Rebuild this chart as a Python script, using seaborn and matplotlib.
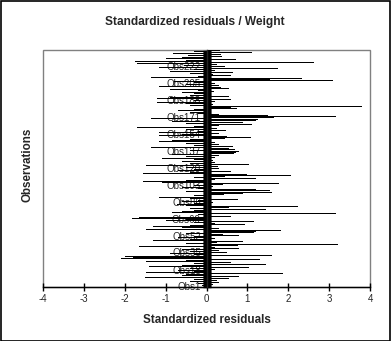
import matplotlib
matplotlib.use("Agg")
import matplotlib.pyplot as plt
from matplotlib.patches import Rectangle
import seaborn as sns
import pandas as pd

# Standardized residuals, listed from the top row of the chart down to Obs1
residuals_top_down = [
    0.32, -0.3, 1.12, -0.83, 0.35, -0.45, 0.39, -0.6, -1.0, 0.73,
    -0.5, -1.75, 2.64, -1.7, 0.25, -0.55, 0.45, -1.15, 1.76, -0.3,
    0.2, -0.9, 0.65, -0.4, 0.15, 0.6, -0.2, -1.35, 2.34, 1.56,
    3.1, -0.8, -0.3, 0.2, -0.5, 0.3, -1.15, 0.35, 0.55, -0.9,
    -0.2, 0.18, -0.6, -0.3, 0.1, -0.4, 0.55, -0.9, -1.2, 0.6,
    -0.3, 0.2, -1.2, -0.5, 0.15, -0.4, 3.8, 0.6, 0.75, -0.3,
    -0.7, 0.1, -0.4, -0.2, 0.3, 1.5, 3.18, 1.64, -1.35, 1.27,
    1.2, -0.85, 0.9, -0.5, 1.12, 0.3, -0.3, -1.7, 0.25, -0.5,
    0.47, -0.2, -1.15, 0.3, -0.6, -1.15, 0.5, 1.1, 0.45, -0.4,
    -0.85, -1.15, 0.2, -0.5, 0.3, -0.3, 0.66, -1.35, 0.55, 0.7,
    -0.4, 0.8, 0.72, 0.68, -0.85, 0.3, -0.5, 0.2, -1.1, -0.3,
    0.15, -0.6, 0.2, -0.4, 1.05, -1.47, 0.27, -0.5, 0.3, -0.3,
    -0.7, 0.6, -0.4, -1.56, 1.0, 2.07, 0.46, -0.3, 1.2, 0.2,
    -0.5, -1.56, -1.1, 1.78, 0.4, -0.3, 0.15, -0.6, -0.2, 1.2,
    1.56, -0.5, 1.6, 0.9, 0.44, -0.3, 0.1, -1.15, -0.4, 0.78,
    -0.2, -0.6, 0.15, -0.3, -0.73, -0.5, 2.25, 0.56, -0.4, 1.46,
    -0.3, -0.6, -0.85, 3.17, -0.2, 0.1, 0.6, -1.64, -1.83, -0.5,
    -1.0, 1.15, -0.3, 0.2, 0.95, -0.4, -1.3, -0.6, 0.3, -1.47,
    1.83, 1.2, 1.15, -0.5, 0.4, 0.8, -0.3, -0.7, 0.2, -0.4,
    -1.3, 0.9, 0.25, -0.5, 3.22, 0.78, -1.64, 0.2, 0.8, -0.6,
    0.3, -0.4, 0.5, -0.9, -0.3, 1.6, -2.0, -1.8, -2.1, 1.3,
    -0.5, -1.47, 0.6, -0.3, 1.46, -0.6, -1.4, 1.05, -0.4, 0.2,
    -0.7, -0.3, -1.47, 1.88, -0.5, -0.6, 0.8, -1.5, 0.55, -0.3,
    0.25, -0.4, 0.3, -0.2, 0.15, -0.1, 0.1,
]
residuals = residuals_top_down[::-1]          # Obs1 ... ObsN
observations = [f"Obs{i}" for i in range(1, len(residuals) + 1)]
labeled_obs = ["Obs1", "Obs18", "Obs35", "Obs52", "Obs69", "Obs86", "Obs103",
               "Obs120", "Obs137", "Obs154", "Obs171", "Obs188", "Obs205", "Obs222"]
x_ticks = [-4, -3, -2, -1, 0, 1, 2, 3, 4]

df = pd.DataFrame({"Observation": observations, "Residual": residuals})

sns.set_style("white")
plt.rcParams["font.family"] = ["Liberation Sans", "DejaVu Sans"]

fig = plt.figure(figsize=(3.91, 3.41), dpi=100)
fig.patch.set_facecolor("white")
ax = fig.add_axes([43 / 391, 1 - 287 / 341, 327 / 391, 237 / 341])

order = observations[::-1]  # top row first
sns.barplot(data=df, x="Residual", y="Observation", order=order, orient="h",
            color="black", width=1.0, linewidth=0, saturation=1, ax=ax)
for p in ax.patches:
    p.set_antialiased(False)

ax.set_xlim(-4, 4)
ax.set_ylim(len(order) - 0.5, -0.5)

# y axis at zero with a tick mark for every observation
ax.spines["left"].set_position(("data", 0))
ax.spines["left"].set_linewidth(1)
ax.spines["left"].set_zorder(5)
ax.set_yticks(range(len(order)), minor=True)
ax.tick_params(axis="y", which="minor", direction="inout", length=6, width=1,
               color="black", left=True)
ax.set_yticks([order.index(o) for o in labeled_obs])
ax.set_yticklabels(labeled_obs)
ax.tick_params(axis="y", which="major", direction="inout", length=6, width=1,
               color="black", left=True, labelsize=7, pad=1)

ax.spines["bottom"].set_color("black")
ax.spines["bottom"].set_linewidth(1)
ax.spines["top"].set_visible(False)
ax.spines["right"].set_visible(False)
ax.set_xticks(x_ticks)
ax.set_xticklabels([str(t) for t in x_ticks])
ax.tick_params(axis="x", direction="inout", length=6, width=1, color="black",
               bottom=True, labelsize=7, pad=2)

ax.set_xlabel("Standardized residuals", fontsize=8.4, fontweight="bold", labelpad=7)
ax.set_ylabel("")
fig.text(28 / 391, 1 - 165 / 341, "Observations", rotation=90, fontsize=8.4,
         fontweight="bold", ha="center", va="center")
fig.text(195 / 391, 1 - 22 / 341, "Standardized residuals / Weight", fontsize=8.6,
         fontweight="bold", ha="center", va="center")

# gray plot-area frame (left, top, right)
ax.add_patch(Rectangle((0, 0), 1, 1, transform=ax.transAxes, fill=False,
                       edgecolor="#808080", linewidth=1, clip_on=False, zorder=0))
# outer chart border
fig.patches.append(Rectangle((0.5 / 391, 0.5 / 341), 389.5 / 391, 339.5 / 341,
                             transform=fig.transFigure, fill=False,
                             edgecolor="black", linewidth=1.2))

fig.savefig("out.png", dpi=100, facecolor="white")
